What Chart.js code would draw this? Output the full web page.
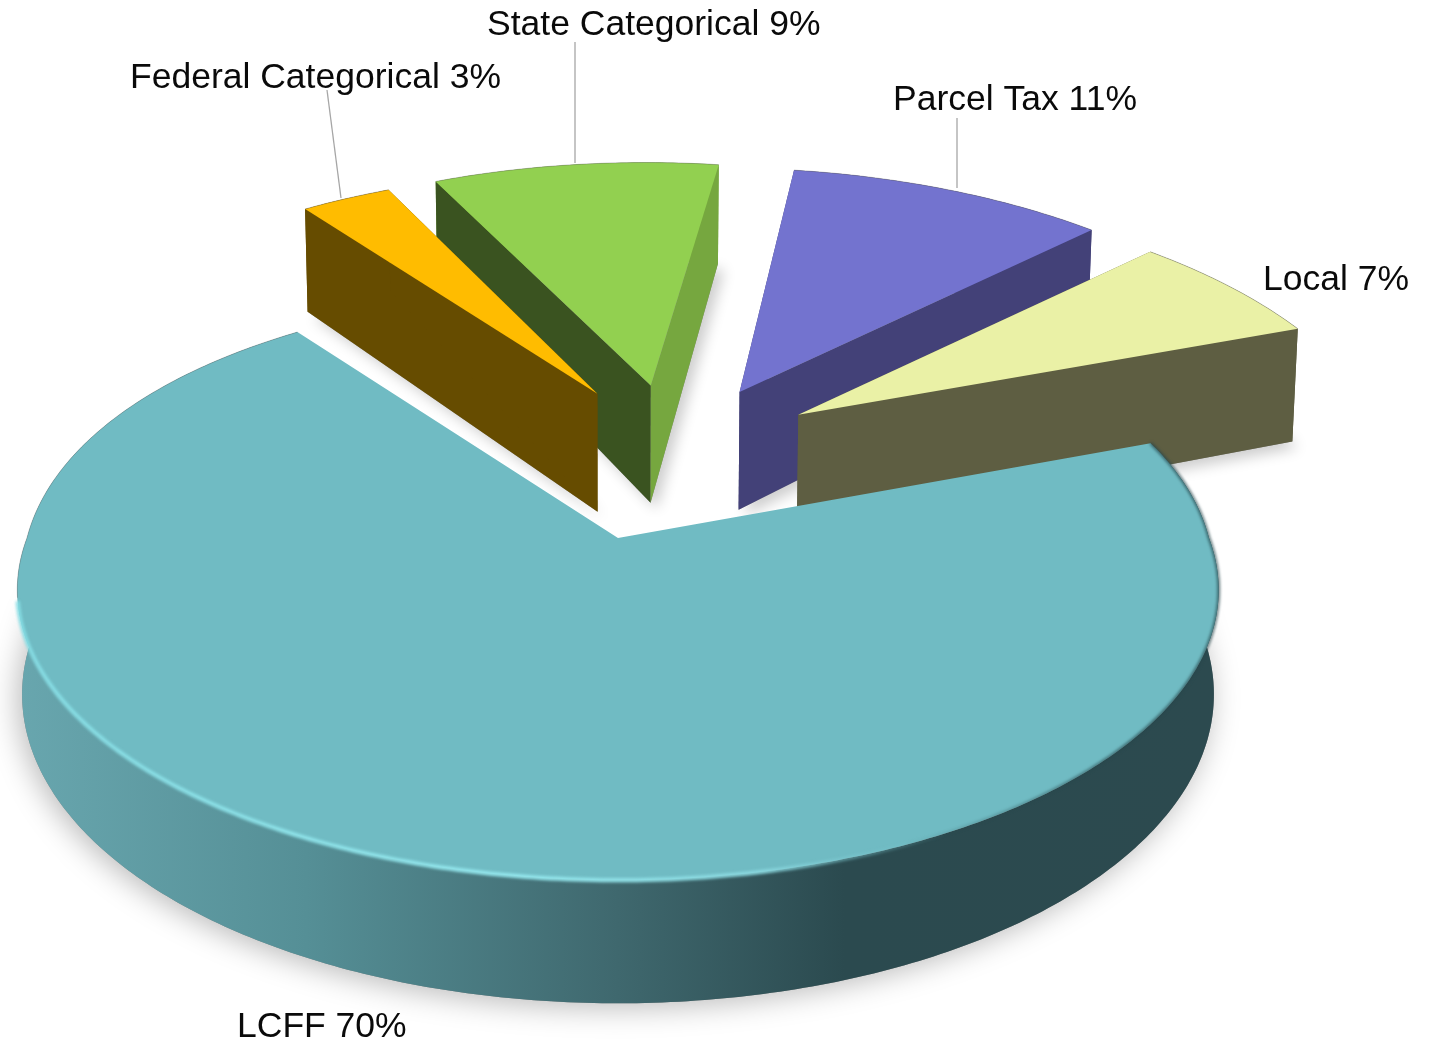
<!DOCTYPE html>
<html><head><meta charset="utf-8">
<style>html,body{margin:0;padding:0;background:#fff}canvas{display:block}</style>
<script src="https://cdn.jsdelivr.net/npm/chart.js@4/dist/chart.umd.min.js"></script>
</head><body><canvas id="c" width="1440" height="1042"></canvas>
<script>
const categories = ['LCFF','Federal Categorical','State Categorical','Parcel Tax','Local'];
const shares = [70.4,3.0,9.6,10.5,6.5];
const percentLabels = ['70%','3%','9%','11%','7%'];
const topColors = ['#70BBC3','#FFBC00','#92D050','#7373CF','#EAF1A6'];
const startWall = ['#3E666C','#664C00','#3A5320','#434178','#5E5E42'];
const endWall   = ['#3E666C','#664C00','#76A73F','#434178','#5E5E42'];
const rimWall   = ['#3E666C','#664C00','#76A73F','#434178','#5E5E42'];
const explode = [0.3,0.27,0.27,0.27,0.27];
const radX = [1,1.06,1.06,1.06,1.06];
const radXRear = [0.06,0,0,0,0];
const radY = [1.05,1.14,1.155,1.15,1.12];
const depths = [101,130,130,130,130];
const labelAnchors = [[237,1037],[130,88],[487,35],[893,110],[1263,290]];
const leaders = [null,[[327,90],[341,198]],[[575,42],[575,163]],[[957,118],[957,188]],null];
const drawOrder = [2,1,3,4,0];
const P = {cx:618, cy:538, A:591, B:281, q:0.179, liftX:0.015, liftY:-0.047};

function proj(x,y,drop){
  const w = 1 - P.q*y;
  const shrink = drop ? 0.992 : 1;
  return [P.cx + shrink*P.A*x/w, P.cy + P.B*y/w + (drop? drop/w : 0)];
}
function polar(a){return [Math.cos(a),Math.sin(a)];}
function slicePath(arc,i,C0){
  const mid=(arc.startAngle+arc.endAngle)/2, d=polar(mid);
  const ox=C0[0]+explode[i]*d[0]+(i?P.liftX:0), oy=C0[1]+explode[i]*d[1]+(i?P.liftY:0);
  const n=Math.max(8,Math.round((arc.endAngle-arc.startAngle)/0.012));
  const rim=[];
  for(let k=0;k<=n;k++){
    const a=arc.startAngle+(arc.endAngle-arc.startAngle)*k/n, u=polar(a);
    const rx=radX[i]*(1+radXRear[i]*Math.max(0,-u[1]));
    rim.push([ox+rx*u[0],oy+(u[1]<0?radY[i]:1)*u[1]]);
  }
  return {o:[ox,oy],rim};
}
function fillPoly(ctx,pts,style){
  ctx.beginPath();pts.forEach((p,k)=>k?ctx.lineTo(p[0],p[1]):ctx.moveTo(p[0],p[1]));ctx.closePath();
  ctx.fillStyle=style;ctx.fill();
}
function strokeLine(ctx,pts){
  ctx.beginPath();pts.forEach((p,k)=>k?ctx.lineTo(p[0],p[1]):ctx.moveTo(p[0],p[1]));ctx.stroke();
}
function wallColor(ctx){
  const g=ctx.createLinearGradient(20,0,1215,0);
  g.addColorStop(0,'#68A6AE');g.addColorStop(0.24,'#558F96');g.addColorStop(0.5,'#3F686E');
  g.addColorStop(0.69,'#2B4A4F');g.addColorStop(1,'#2C4A4F');
  return g;
}
const pie3d = {
  id:'pie3d',
  beforeDatasetsDraw(chart){
    const ctx=chart.ctx, arcs=chart.getDatasetMeta(0).data;
    const d0=polar((arcs[0].startAngle+arcs[0].endAngle)/2);
    const C0=[-explode[0]*d0[0],-explode[0]*d0[1]];
    drawOrder.forEach(i=>{
      const arc=arcs[i], s=slicePath(arc,i,C0);
      const D=depths[i];
      const top=[s.o,...s.rim].map(p=>proj(p[0],p[1]));
      const bot=[s.o,...s.rim].map(p=>proj(p[0],p[1],D));
      const rimTop=s.rim.map(p=>proj(p[0],p[1]));
      const rimBot=s.rim.map(p=>proj(p[0],p[1],D));
      ctx.save();
      ctx.shadowColor=i===0?'rgba(0,0,0,0.28)':'rgba(0,0,0,0.2)';
      ctx.shadowBlur=i===0?30:14;
      ctx.shadowOffsetY=i===0?4:6;
      ctx.shadowOffsetX=i===0?-4:6;
      fillPoly(ctx,bot,'#888');
      ctx.restore();
      const rs=i===0?wallColor(ctx):rimWall[i];
      fillPoly(ctx,[...rimTop,...rimBot.slice().reverse()],rs);
      if(i!==0){
        fillPoly(ctx,[top[0],rimTop[0],rimBot[0],bot[0]],startWall[i]);
        fillPoly(ctx,[top[0],rimTop[rimTop.length-1],rimBot[rimBot.length-1],bot[0]],endWall[i]);
      }
      fillPoly(ctx,top,topColors[i]);
      ctx.save();
      ctx.lineJoin='round';
      if(i===0){
        const left=rimTop.filter(p=>p[1]>=600&&p[0]<950);
        const right=rimTop.filter(p=>p[0]>=900);
        const g=ctx.createLinearGradient(17,0,950,0);
        g.addColorStop(0,'#86DDE4');g.addColorStop(0.55,'#96EAF0');g.addColorStop(0.8,'#8AD8DF');g.addColorStop(1,'rgba(112,187,195,0)');
        ctx.strokeStyle=g;ctx.lineWidth=4;ctx.filter='blur(1.4px)';
        strokeLine(ctx,left);
        const dg=ctx.createLinearGradient(900,0,1130,0);
        dg.addColorStop(0,'rgba(38,70,75,0)');dg.addColorStop(1,'rgba(38,70,75,0.85)');
        ctx.strokeStyle=dg;ctx.lineWidth=2.5;
        strokeLine(ctx,right);
        ctx.filter='none';
        ctx.strokeStyle='rgba(90,90,90,0.35)';ctx.lineWidth=1;
        strokeLine(ctx,rimTop.filter(p=>p[1]<600&&p[0]<618));
      } else {
        ctx.strokeStyle='rgba(90,90,90,0.35)';ctx.lineWidth=1;
        strokeLine(ctx,rimTop);
      }
      ctx.restore();
    });
    return false;
  },
  afterDraw(chart){
    const ctx=chart.ctx;
    ctx.save();
    ctx.strokeStyle='#A6A6A6';ctx.lineWidth=1.3;
    leaders.forEach(l=>{if(!l)return;ctx.beginPath();ctx.moveTo(l[0][0],l[0][1]);ctx.lineTo(l[1][0],l[1][1]);ctx.stroke();});
    ctx.fillStyle='#0a0a0a';ctx.font='35.5px "Liberation Sans", Arial, sans-serif';ctx.textBaseline='alphabetic';
    categories.forEach((c,i)=>ctx.fillText(c+' '+percentLabels[i],labelAnchors[i][0],labelAnchors[i][1]));
    ctx.restore();
  }
};
new Chart(document.getElementById('c'),{
  type:'pie',
  data:{labels:categories,datasets:[{data:shares,backgroundColor:topColors,borderWidth:0}]},
  options:{responsive:false,animation:false,rotation:70,
    plugins:{legend:{display:false},tooltip:{enabled:false}},events:[]},
  plugins:[pie3d]
});
</script></body></html>
